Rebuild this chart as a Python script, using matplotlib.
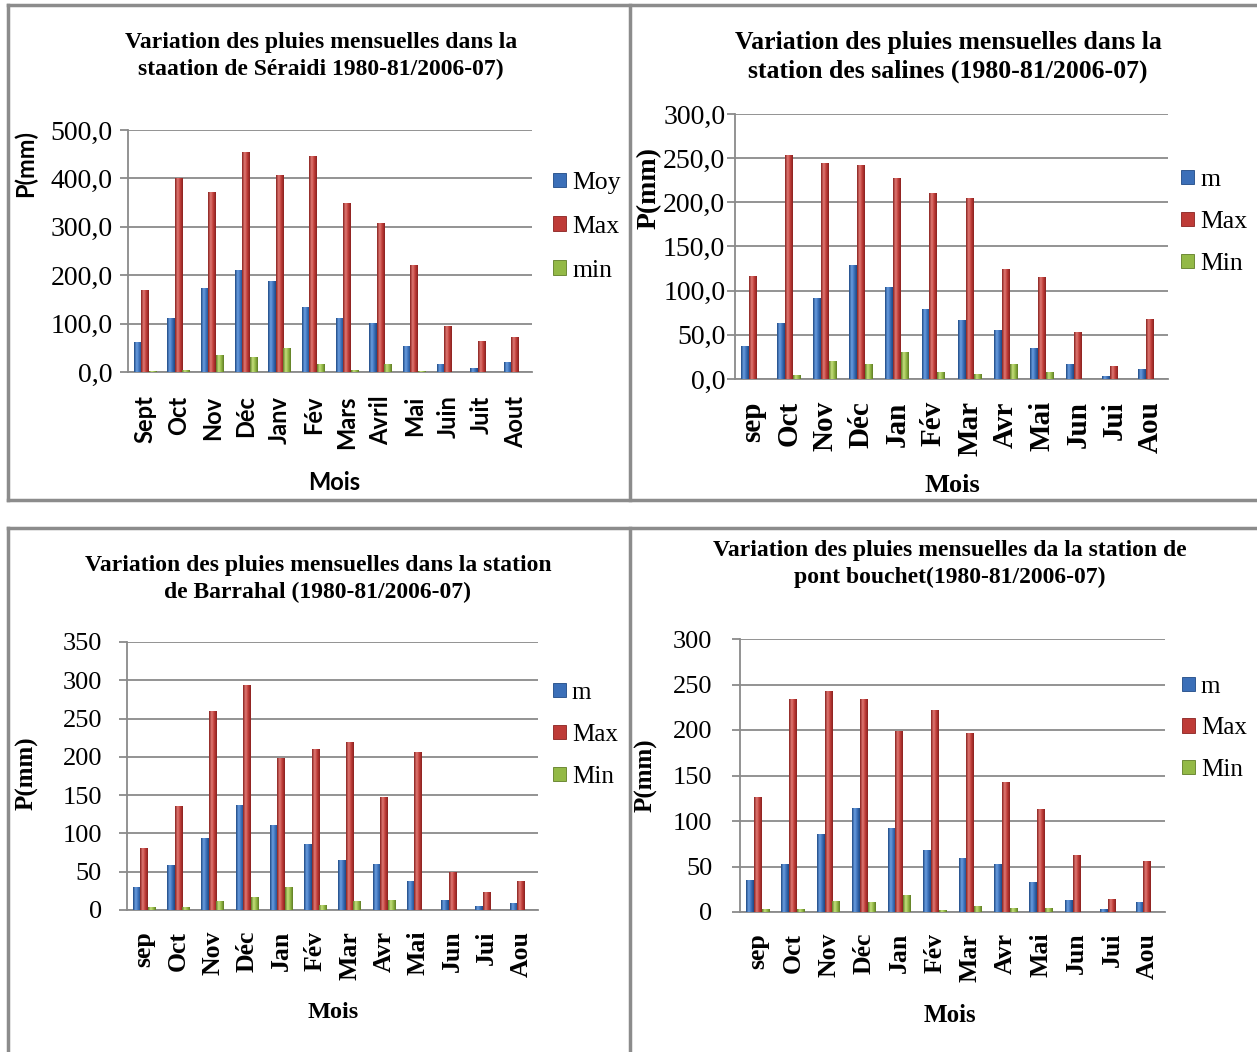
import numpy as np
import matplotlib
matplotlib.use("Agg")
import matplotlib.pyplot as plt
from matplotlib.colors import LinearSegmentedColormap
from matplotlib.patches import Patch
from matplotlib.lines import Line2D

W, H = 1257, 1052

# Séraidi
sera_months = ["Sept", "Oct", "Nov", "Déc", "Janv", "Fév", "Mars", "Avril", "Mai", "Juin", "Juit", "Aout"]
sera_moy = [60, 111, 173, 210, 188, 133, 111, 101, 53, 16, 8, 19]
sera_max = [168, 400, 371, 454, 406, 446, 348, 307, 220, 93, 62, 72]
sera_min = [2, 4, 34, 30, 48, 16, 4, 16, 2, 0, 0, 0]

# Salines
sal_months = ["sep", "Oct", "Nov", "Déc", "Jan", "Fév", "Mar", "Avr", "Mai", "Jun", "Jui", "Aou"]
sal_m = [37, 63, 91, 128, 104, 79, 66, 55, 35, 16, 3, 11]
sal_max = [116, 253, 244, 242, 227, 210, 204, 124, 115, 53, 14, 67]
sal_min = [0, 4.5, 20, 16, 29.5, 7, 5, 16, 7, 0, 0, 0]

# Barrahal
bar_months = ["sep", "Oct", "Nov", "Déc", "Jan", "Fév", "Mar", "Avr", "Mai", "Jun", "Jui", "Aou"]
bar_m = [30, 58, 94, 137, 110, 85, 65, 60, 37, 13, 5, 8]
bar_max = [80, 135, 259, 293, 198, 210, 219, 147, 206, 49, 23, 37]
bar_min = [3, 3, 11, 16, 30, 6, 11, 12, 0, 0, 0, 0]

# Pont Bouchet
pb_months = ["sep", "Oct", "Nov", "Déc", "Jan", "Fév", "Mar", "Avr", "Mai", "Jun", "Jui", "Aou"]
pb_m = [35, 52, 85, 114, 92, 68, 59, 52, 32, 13, 3, 10]
pb_max = [126, 234, 242, 233, 198, 221, 196, 142, 113, 62, 14, 55]
pb_min = [3, 3, 12, 10, 18, 2, 6, 4, 4, 0, 0, 0]

SERIF = "Liberation Serif"
SANS = "Lato"
GRID = "#8a8a8a"

BLUE = ("#1f4a85", "#6a9ee0", "#3b6fb8")
RED = ("#8a2220", "#e07a74", "#be3b37")
GREEN = ("#5f7d25", "#c6e07e", "#93b946")


def box(l, t, r, b):
    return [l / W, 1 - b / H, (r - l) / W, (b - t) / H]


def shaded_bars(ax, x, vals, width, cols):
    dark, light, base = cols
    cmap = LinearSegmentedColormap.from_list("c", [dark, light, base, dark])
    grad = np.linspace(0, 1, 32).reshape(1, -1)
    bars = ax.bar(x, vals, width, color=base, edgecolor="none", zorder=2)
    for b in bars:
        h = b.get_height()
        if h <= 0:
            continue
        ax.imshow(grad, extent=[b.get_x(), b.get_x() + b.get_width(), 0, h],
                  aspect="auto", cmap=cmap, zorder=3, interpolation="bilinear")
    return bars


def comma(v):
    return f"{v:.1f}".replace(".", ",")


def integer(v):
    return f"{int(v)}"


def panel(fig, rect, months, series, labels, ymax, ystep, fmt, title, title_pos,
          title_size, ytick_size, ytick_pad, xtick_font, xtick_size, xtick_pad,
          ylab_font, ylab_size, ylab_pos, leg_pos, leg_size, leg_space,
          mois_font, mois_size, mois_pos):
    ax = fig.add_axes(box(*rect))
    x = np.arange(len(months))
    w = 0.22
    for i, (vals, cols) in enumerate(zip(series, (BLUE, RED, GREEN))):
        shaded_bars(ax, x + (i - 1) * w, vals, w, cols)
    ax.set_xlim(-0.5, len(months) - 0.5)
    ax.set_ylim(0, ymax)
    ticks = np.arange(0, ymax + 1, ystep)
    ax.set_yticks(ticks)
    ax.set_yticklabels([fmt(t) for t in ticks], fontfamily=SERIF, fontsize=ytick_size)
    ax.set_xticks(x)
    ax.set_xticklabels(months, rotation=90, fontfamily=xtick_font, fontsize=xtick_size,
                       fontweight="bold")
    ax.yaxis.grid(True, color=GRID, lw=1.3, zorder=0)
    ax.set_axisbelow(True)
    for s in ("top", "right"):
        ax.spines[s].set_visible(False)
    for s in ("left", "bottom"):
        ax.spines[s].set_color(GRID)
        ax.spines[s].set_linewidth(1.3)
    ax.tick_params(axis="y", length=6, color=GRID, width=1.3, pad=ytick_pad)
    ax.tick_params(axis="x", length=0, pad=xtick_pad)
    ax.set_ylabel("P(mm)", fontfamily=ylab_font, fontsize=ylab_size, fontweight="bold")
    ax.yaxis.set_label_coords(*ylab_pos)

    handles = [Patch(facecolor=c[2], edgecolor=c[0], lw=0.6) for c in (BLUE, RED, GREEN)]
    ax.legend(handles, labels, loc="upper left",
              bbox_to_anchor=(leg_pos[0] / W, 1 - leg_pos[1] / H),
              bbox_transform=fig.transFigure, frameon=False,
              prop={"family": SERIF, "size": leg_size}, handlelength=0.5,
              handleheight=0.5, handletextpad=0.25, labelspacing=leg_space,
              borderaxespad=0, borderpad=0)

    fig.text(mois_pos[0] / W, 1 - mois_pos[1] / H, "Mois", ha="center", va="center",
             fontfamily=mois_font, fontsize=mois_size, fontweight="bold")
    fig.text(title_pos[0] / W, 1 - title_pos[1] / H, title, ha="center", va="center",
             fontfamily=SERIF, fontsize=title_size, fontweight="bold", linespacing=1.35)
    return ax


fig = plt.figure(figsize=(W / 100, H / 100), dpi=100)

panel(fig, (128, 130, 532, 372), sera_months, (sera_moy, sera_max, sera_min),
      ["Moy", "Max", "min"], 500, 100, comma,
      "Variation des pluies mensuelles dans la\nstaation de Séraidi 1980-81/2006-07)",
      title_pos=(321, 56), title_size=17, ytick_size=20, ytick_pad=5,
      xtick_font=SANS, xtick_size=17, xtick_pad=17,
      ylab_font=SANS, ylab_size=17, ylab_pos=(-0.225, 0.86),
      leg_pos=(553, 172), leg_size=18.5, leg_space=0.85,
      mois_font=SANS, mois_size=17, mois_pos=(334, 483))

panel(fig, (735, 114, 1168, 379), sal_months, (sal_m, sal_max, sal_min),
      ["m", "Max", "Min"], 300, 50, comma,
      "Variation des pluies mensuelles dans la\nstation des salines (1980-81/2006-07)",
      title_pos=(948, 57), title_size=18.5, ytick_size=20, ytick_pad=1,
      xtick_font=SERIF, xtick_size=21, xtick_pad=16,
      ylab_font=SERIF, ylab_size=20, ylab_pos=(-0.17, 0.72),
      leg_pos=(1181, 169), leg_size=18.5, leg_space=0.78,
      mois_font=SERIF, mois_size=19, mois_pos=(952, 485))

panel(fig, (127, 642, 538, 910), bar_months, (bar_m, bar_max, bar_min),
      ["m", "Max", "Min"], 350, 50, integer,
      "Variation des pluies mensuelles dans la station\nde Barrahal (1980-81/2006-07)",
      title_pos=(318, 579), title_size=17, ytick_size=19, ytick_pad=12,
      xtick_font=SERIF, xtick_size=18.5, xtick_pad=15,
      ylab_font=SERIF, ylab_size=18, ylab_pos=(-0.215, 0.51),
      leg_pos=(553, 682), leg_size=18, leg_space=0.8,
      mois_font=SERIF, mois_size=17.5, mois_pos=(333, 1012))

panel(fig, (740, 639, 1165, 912), pb_months, (pb_m, pb_max, pb_min),
      ["m", "Max", "Min"], 300, 50, integer,
      "Variation des pluies mensuelles da la station de\npont bouchet(1980-81/2006-07)",
      title_pos=(950, 564), title_size=17, ytick_size=19, ytick_pad=14,
      xtick_font=SERIF, xtick_size=18.5, xtick_pad=15,
      ylab_font=SERIF, ylab_size=18, ylab_pos=(-0.195, 0.5),
      leg_pos=(1182, 676), leg_size=18, leg_space=0.77,
      mois_font=SERIF, mois_size=18, mois_pos=(950, 1016))

# panel frames
frame = dict(color="#8c8c8c", lw=2.5, transform=fig.transFigure)
for xs, ys in [((8, 8), (5, 500)), ((8, W), (5, 5)), ((8, W), (500, 500)),
               ((630, 630), (5, 500)), ((8, 8), (528, H)), ((8, W), (528, 528)),
               ((630, 630), (528, H))]:
    fig.add_artist(Line2D([x / W for x in xs], [1 - y / H for y in ys], **frame))

fig.savefig("out.png", dpi=100)
